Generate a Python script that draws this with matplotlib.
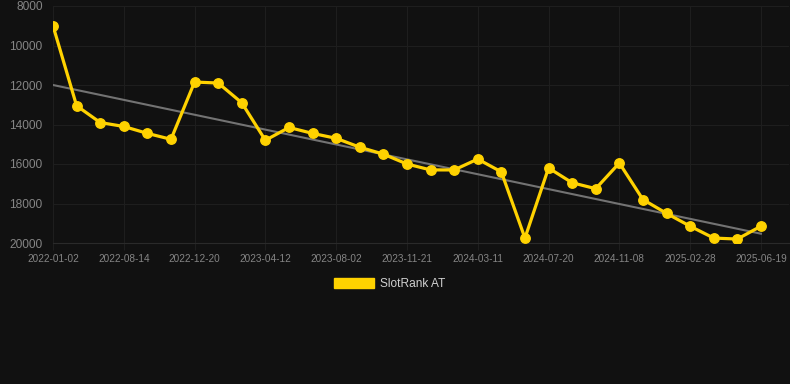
import matplotlib
matplotlib.use("Agg")
import matplotlib.pyplot as plt
from matplotlib.patches import Patch
import numpy as np

series_name = "SlotRank AT"
values = [9000, 13050, 13900, 14100, 14450, 14750, 11850, 11900, 12900, 14800,
          14150, 14450, 14700, 15150, 15500, 16000, 16300, 16300, 15750, 16400,
          19750, 16200, 16950, 17250, 15950, 17800, 18500, 19150, 19750, 19800,
          19150]
tick_labels = ["2022-01-02", "2022-08-14", "2022-12-20", "2023-04-12", "2023-08-02",
               "2023-11-21", "2024-03-11", "2024-07-20", "2024-11-08", "2025-02-28",
               "2025-06-19"]
trend_values = [12000, 19530]
y_ticks = [8000, 10000, 12000, 14000, 16000, 18000, 20000]

bg = "#111111"
yellow = "#FFD200"
grid_c = "#1e1e1e"

plt.rcParams['font.family'] = ['Liberation Sans', 'DejaVu Sans']
fig = plt.figure(figsize=(7.9, 3.84), dpi=100, facecolor=bg)
W, H = 790, 384
ax = fig.add_axes([53 / W, 1 - 243 / H, (789 - 53) / W, (243 - 6) / H])
ax.set_facecolor(bg)

x = np.arange(len(values))
ax.plot([x[0], x[-1]], trend_values, color="#737373", lw=1.5, zorder=2)
ax.plot(x, values, color=yellow, lw=2.3, marker="o", markersize=6.8,
        markerfacecolor=yellow, markeredgecolor=yellow, zorder=3)

ax.set_xlim(0, 31.19)
ax.set_ylim(20000, 8000)
ax.set_yticks(y_ticks)
ax.set_yticklabels([str(v) for v in y_ticks])
tick_pos = x[::3]
ax.set_xticks(tick_pos)
ax.set_xticklabels(tick_labels)

ax.grid(True, color=grid_c, lw=0.8, zorder=0)
for s in ax.spines.values():
    s.set_visible(False)
ax.spines['bottom'].set_visible(True)
ax.spines['bottom'].set_color("#2a2a2a")
ax.spines['bottom'].set_linewidth(0.8)
ax.tick_params(axis='y', colors="#858585", labelsize=8.6, length=0, pad=7.5)
ax.tick_params(axis='x', colors=grid_c, labelcolor="#858585", labelsize=7.2,
               length=5, width=0.8, pad=3)

fig.legend(handles=[Patch(facecolor=yellow, edgecolor=yellow, label=series_name)],
           loc='center', bbox_to_anchor=(389.5 / W, 1 - 284 / H), frameon=False,
           handlelength=3.33, handleheight=1.0, handletextpad=0.5, fontsize=8.6,
           labelcolor="#d0d0d0")

fig.savefig("out.png", dpi=100, facecolor=bg)
